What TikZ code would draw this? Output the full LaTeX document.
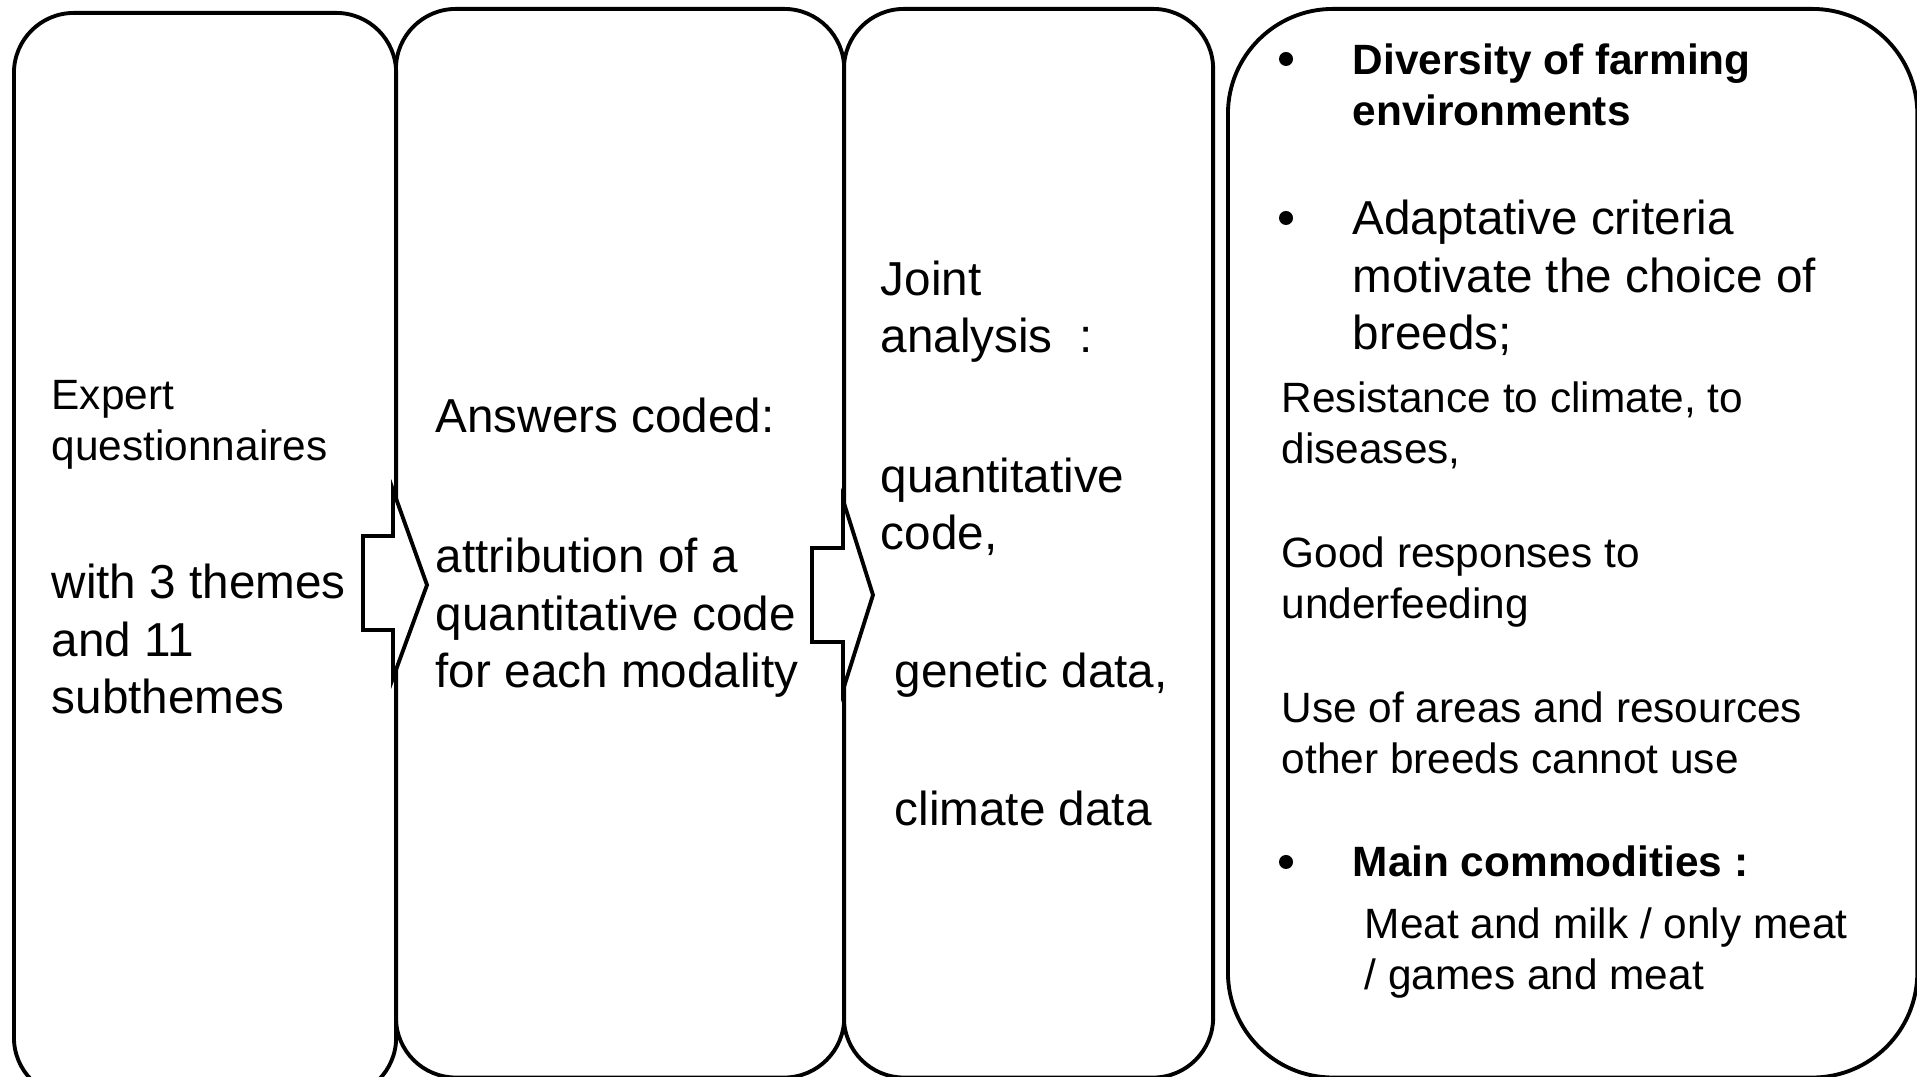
\documentclass[tikz,border=0pt]{standalone}
\usepackage{fontspec}
\setmainfont{Liberation Sans}
\usepackage{tikz}

\tikzset{
  box/.style={draw, line width=1.1pt, rounded corners=0.6cm, anchor=north west, inner sep=0pt},
  small/.style={font=\fontsize{12.05}{14.6}\selectfont, align=left, anchor=base west, inner sep=0pt},
  large/.style={font=\fontsize{13.55}{16.4}\selectfont, align=left, anchor=base west, inner sep=0pt},
  blockarrow/.style={draw, fill=white, line width=1.1pt, line join=miter},
  dot/.style={circle, fill=black, inner sep=0pt, minimum size=0.14cm},
}

\begin{document}
\begin{tikzpicture}[x=0.01cm, y=-0.01cm]
    \useasboundingbox (0,0) rectangle (1917,1077);
    \clip (0,0) rectangle (1917,1077);

    % Boxes
    \node[box, minimum width=3.82cm, minimum height=10.84cm] (b1) at (12,11) {};
    \node[box, minimum width=4.48cm, minimum height=10.68cm] (b2) at (394,7) {};
    \node[box, minimum width=3.69cm, minimum height=10.68cm] (b3) at (842,7) {};
    \node[box, rounded corners=1.05cm, minimum width=6.89cm, minimum height=10.68cm] (b4) at (1226,7) {};

    % Block arrows over the shared edges
    \draw[blockarrow] (363,536) -- (393,536) -- (393,490) -- (427,585) -- (393,678) -- (393,630) -- (363,630) -- cycle;
    \draw[blockarrow] (812,548) -- (843,548) -- (843,500) -- (873,595) -- (843,690) -- (843,642) -- (812,642) -- cycle;

    % Box 1 text (placed by the last line's baseline)
    \node[small] (t1a) at (51,461) {Expert\\questionnaires};
    \node[large] (t1b) at (51,714) {with 3 themes\\and 11\\subthemes};

    % Box 2 text
    \node[large] (t2a) at (435,433) {Answers coded:};
    \node[large] (t2b) at (435,688) {attribution of a\\quantitative code\\for each modality};

    % Box 3 text
    \node[large] (t3a) at (880,353) {Joint\\analysis~~:};
    \node[large] (t3b) at (880,550) {quantitative\\code,};
    \node[large] (t3c) at (894,688) {genetic data,};
    \node[large] (t3d) at (894,826) {climate data};

    % Box 4 bullets
    \foreach \i/\y in {1/59,2/218,3/862}
        \node[dot] (dot\i) at (1286,\y) {};

    % Box 4 text
    \node[small, font=\fontsize{12.05}{14.6}\selectfont\bfseries] (t4a) at (1352,126) {Diversity of farming\\environments};
    \node[large] (t4b) at (1352,350) {Adaptative criteria\\motivate the choice of\\breeds;};
    \node[small] (t4c) at (1281,464) {Resistance to climate, to\\diseases,};
    \node[small] (t4d) at (1281,619) {Good responses to\\underfeeding};
    \node[small] (t4e) at (1281,774) {Use of areas and resources\\other breeds cannot use};
    \node[small, font=\fontsize{12.05}{14.6}\selectfont\bfseries] (t4f) at (1352,877) {Main commodities :};
    \node[small] (t4g) at (1364,990) {Meat and milk / only meat\\/ games and meat};
\end{tikzpicture}
\end{document}
